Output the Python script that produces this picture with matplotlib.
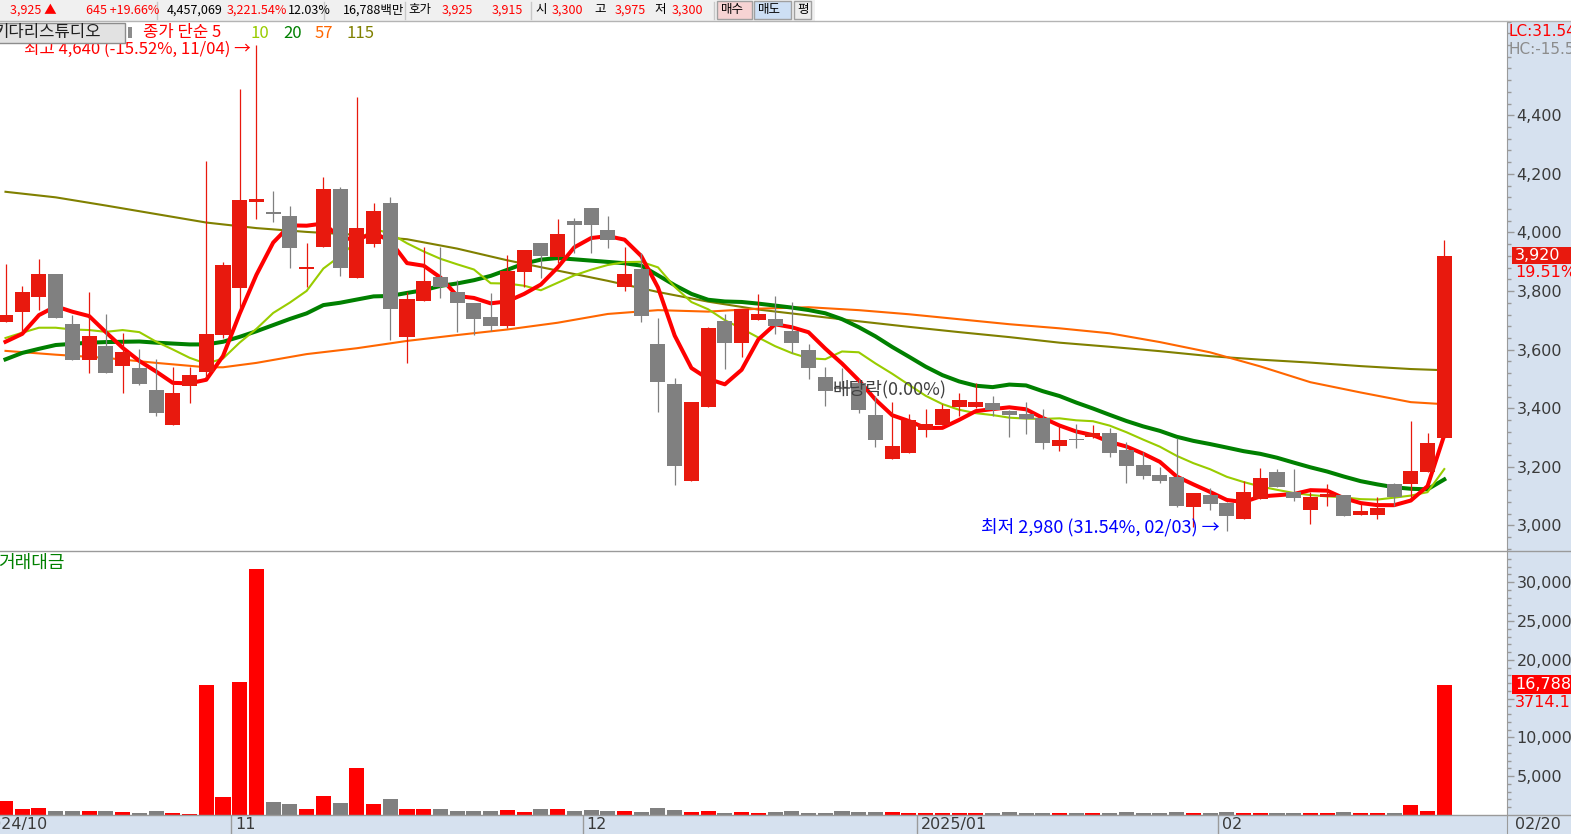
import numpy as np
import pandas as pd
import matplotlib
matplotlib.use('Agg')
import matplotlib.pyplot as plt
import matplotlib.transforms as mtrans
from matplotlib.patches import Rectangle
from matplotlib.lines import Line2D

plt.rcParams['font.family'] = ['Noto Sans CJK KR', 'DejaVu Sans']

# ---------------- data ----------------
holidays = ['2024-12-25', '2024-12-31', '2025-01-01', '2025-01-27',
            '2025-01-28', '2025-01-29', '2025-01-30']
dates = pd.bdate_range('2024-10-14', '2025-02-20').drop(pd.to_datetime(holidays))

opens = [3695, 3729, 3780, 3858, 3687, 3565, 3612, 3545, 3537, 3462,
         3344, 3477, 3525, 3651, 3811, 4105, 4070, 4056, 3875, 3951,
         4148, 3845, 3961, 4100, 3644, 3766, 3848, 3796, 3759, 3711,
         3680, 3865, 3963, 3916, 4038, 4083, 4008, 3813, 3875, 3619,
         3483, 3153, 3405, 3697, 3622, 3701, 3704, 3663, 3599, 3506,
         3471, 3486, 3377, 3228, 3248, 3326, 3343, 3404, 3404, 3418,
         3391, 3380, 3367, 3271, 3295, 3303, 3316, 3257, 3206, 3172,
         3165, 3064, 3104, 3078, 3023, 3091, 3183, 3114, 3054, 3097,
         3104, 3037, 3037, 3143, 3143, 3184, 3300]
highs = [3893, 3817, 3910, 3860, 3718, 3796, 3721, 3657, 3602, 3568,
         3541, 3541, 4243, 3899, 4489, 4640, 4141, 4090, 3963, 4189,
         4155, 4461, 4100, 4120, 3796, 3950, 3950, 3837, 3760, 3793,
         3923, 3940, 3965, 4045, 4049, 4085, 4056, 3950, 3930, 3708,
         3503, 3421, 3678, 3721, 3740, 3790, 3783, 3762, 3619, 3541,
         3538, 3500, 3441, 3421, 3380, 3397, 3414, 3452, 3486, 3441,
         3395, 3421, 3397, 3339, 3346, 3343, 3334, 3285, 3251, 3200,
         3298, 3112, 3129, 3080, 3152, 3197, 3193, 3193, 3115, 3140,
         3105, 3072, 3097, 3145, 3356, 3315, 3975]
lows = [3695, 3663, 3737, 3709, 3565, 3521, 3521, 3453, 3480, 3373,
        3344, 3419, 3504, 3640, 3743, 4046, 4036, 3879, 3813, 3951,
        3851, 3845, 3951, 3633, 3555, 3766, 3777, 3660, 3650, 3663,
        3675, 3813, 3845, 3895, 3929, 3929, 3946, 3800, 3695, 3388,
        3139, 3153, 3405, 3533, 3575, 3700, 3653, 3588, 3500, 3408,
        3465, 3385, 3269, 3228, 3248, 3303, 3343, 3373, 3400, 3373,
        3303, 3312, 3261, 3254, 3264, 3300, 3234, 3145, 3159, 3145,
        3064, 2995, 3054, 2980, 3023, 3091, 3130, 3084, 3004, 3065,
        3034, 3037, 3023, 3067, 3095, 3184, 3300]
closes = [3720, 3796, 3858, 3709, 3565, 3646, 3521, 3592, 3484, 3385,
          3452, 3513, 3653, 3888, 4110, 4115, 4062, 3947, 3882, 4148,
          3879, 4015, 4073, 3739, 3772, 3834, 3813, 3759, 3705, 3680,
          3868, 3940, 3919, 3994, 4026, 4026, 3974, 3858, 3715, 3490,
          3203, 3421, 3673, 3622, 3738, 3721, 3680, 3622, 3537, 3459,
          3466, 3394, 3292, 3271, 3360, 3346, 3397, 3428, 3421, 3394,
          3377, 3363, 3281, 3291, 3292, 3315, 3247, 3203, 3169, 3152,
          3066, 3112, 3074, 3032, 3115, 3163, 3132, 3095, 3098, 3107,
          3034, 3049, 3060, 3097, 3186, 3280, 3920]
# 거래대금 (백만원)
volumes = [1800, 770, 950, 520, 520, 520, 520, 390, 260, 520,
           260, 130, 16750, 2320, 17140, 31700, 1680, 1420, 770, 2450,
           1550, 6060, 1420, 2060, 770, 770, 770, 520, 520, 520,
           640, 390, 770, 770, 520, 640, 520, 520, 390, 900,
           640, 390, 520, 260, 390, 260, 390, 520, 260, 260,
           520, 390, 390, 390, 260, 260, 260, 260, 260, 260,
           390, 260, 260, 260, 260, 260, 260, 390, 260, 260,
           390, 260, 260, 390, 260, 260, 260, 260, 260, 260,
           390, 260, 260, 260, 1300, 550, 16788]

# moving-average values before the window is complete
ma5_head = [3627, 3654, 3718, 3748]
ma10_head = [3640, 3658, 3675, 3675, 3669, 3667, 3661, 3667, 3660]
ma20_head = [3567, 3589, 3603, 3616, 3620, 3624, 3626, 3627, 3628, 3624,
             3621, 3618, 3618, 3627, 3644, 3663, 3684, 3705, 3724]
# long moving averages
ma57_idx = [0, 3, 6, 9, 12, 13, 15, 18, 21, 24, 27, 30, 33, 36, 39, 42,
            45, 48, 51, 54, 57, 60, 63, 66, 69, 72, 75, 78, 81, 84, 86]
ma57_val = [3596, 3583, 3572, 3555, 3540, 3540, 3555, 3585, 3605, 3630,
            3650, 3669, 3692, 3722, 3735, 3730, 3740, 3745, 3735, 3721,
            3704, 3687, 3673, 3656, 3626, 3591, 3543, 3489, 3454, 3421, 3414]
ma115_idx = [0, 3, 6, 9, 12, 15, 18, 21, 24, 27, 30, 33, 36, 39, 42, 45,
             48, 51, 54, 57, 60, 63, 66, 69, 72, 75, 78, 81, 84, 86]
ma115_val = [4139, 4120, 4092, 4063, 4034, 4015, 4002, 3992, 3977, 3945,
             3905, 3870, 3835, 3797, 3764, 3737, 3717, 3697, 3678, 3660,
             3643, 3624, 3610, 3595, 3578, 3566, 3556, 3544, 3534, 3530]
ex_div_idx = 50

n = len(closes)
assert len(opens) == len(highs) == len(lows) == len(volumes) == len(dates) == n

opens, highs, lows, closes, volumes = map(lambda a: np.asarray(a, float),
                                          (opens, highs, lows, closes, volumes))


def sma(vals, win, head):
    out = list(head)
    for i in range(len(head), len(vals)):
        out.append(vals[i - win + 1:i + 1].mean())
    return np.array(out)


ma5 = sma(closes, 5, ma5_head)
ma10 = sma(closes, 10, ma10_head)
ma20 = sma(closes, 20, ma20_head)

# ---------------- layout ----------------
W, H = 1571, 834
BLUE = '#d6e1ef'
fig = plt.figure(figsize=(W / 100, H / 100), dpi=100, facecolor=BLUE)


def fx(px):
    return px / W


def fy(py):
    return 1 - py / H


TOP, SEP, VBOT, RIGHT = 21, 551, 815, 1507
X0, STEP = 5.5, 16.73
PPX = 0.293          # pixels per won
VPX = 0.00776        # pixels per 백만원

ax_p = fig.add_axes([0, fy(SEP), fx(RIGHT), (SEP - TOP) / H])
ax_v = fig.add_axes([0, fy(VBOT), fx(RIGHT), (VBOT - SEP) / H], sharex=ax_p)
ax_d = fig.add_axes([0, 0, fx(RIGHT), (H - VBOT) / H], sharex=ax_p)

ax_p.set_xlim(-X0 / STEP, (RIGHT - X0) / STEP)
ax_p.set_ylim(4000 - (SEP - 232.5) / PPX, 4000 + (232.5 - TOP) / PPX)
ax_v.set_ylim(0, (VBOT - SEP) / VPX)
ax_d.set_ylim(0, 1)

RED_C = '#e8190e'
GRAY_C = '#808080'
SPINE = '#9a9a9a'

for ax in (ax_p, ax_v, ax_d):
    for s in ax.spines.values():
        s.set_visible(False)
    ax.spines['right'].set_visible(True)
    ax.spines['right'].set_color(SPINE)
    ax.tick_params(axis='x', bottom=False, labelbottom=False)
ax_p.set_facecolor('white')
ax_v.set_facecolor('white')
ax_d.set_facecolor(BLUE)
ax_d.set_yticks([])

x = np.arange(n)

# moving averages
ax_p.plot(ma115_idx, ma115_val, color='#808000', lw=1.5, zorder=1)
ax_p.plot(ma57_idx, ma57_val, color='#ff6600', lw=1.5, zorder=1.1)
ax_p.plot(x, ma20, color='#008000', lw=2.9, zorder=1.2)
ax_p.plot(x, ma10, color='#99cc00', lw=1.5, zorder=1.3)
ax_p.plot(x, ma5, color='#ff0000', lw=2.9, zorder=1.4)

# candles
up = closes >= opens
ccol = np.where(up, RED_C, GRAY_C)
body_lo = np.minimum(opens, closes)
body_h = np.maximum(np.abs(closes - opens), 4)
ax_p.vlines(x, lows, highs, colors=ccol, lw=0.9, zorder=3)
ax_p.bar(x, body_h, bottom=body_lo, width=0.9, color=ccol, lw=0, zorder=4)

# volume
vcol = np.where(up, '#ff0000', GRAY_C)
ax_v.bar(x, volumes, width=0.9, color=vcol, lw=0, zorder=3)

# ---------------- right axes ----------------
AXTXT = '#3a3a3a'
ax_p.yaxis.tick_right()
pt = np.arange(3000, 4401, 200)
ax_p.set_yticks(pt)
ax_p.set_yticklabels([f'{v:,}' for v in pt])
ax_p.set_yticks(np.arange(2920, 4721, 40), minor=True)
ax_v.yaxis.tick_right()
vt = np.arange(5000, 30001, 5000)
ax_v.set_yticks(vt)
ax_v.set_yticklabels(['' if v == 15000 else f'{v:,}' for v in vt])
ax_v.set_yticks(np.arange(1000, 34000, 1000), minor=True)
for ax in (ax_p, ax_v):
    ax.tick_params(axis='y', which='major', length=5, width=1, color=SPINE,
                   labelsize=11.5, labelcolor=AXTXT, pad=2,
                   labelfontfamily='DejaVu Sans')
    ax.tick_params(axis='y', which='minor', length=3, width=1, color=SPINE)

# panel separator lines across the full width
for yy in (SEP, VBOT):
    fig.add_artist(Line2D([0, 1], [fy(yy), fy(yy)], color=SPINE, lw=1,
                          transform=fig.transFigure, zorder=10))

# current-value boxes
bt_p = mtrans.blended_transform_factory(fig.transFigure, ax_p.transData)
bt_v = mtrans.blended_transform_factory(fig.transFigure, ax_v.transData)
last, prev = closes[-1], closes[-2]
hbox = 17 / PPX
ax_p.add_patch(Rectangle((fx(1512), last - hbox / 2), fx(W - 1512), hbox,
                         transform=bt_p, fc=RED_C, ec='none', clip_on=False, zorder=6))
ax_p.text(fx(1515), last, f'{int(last):,}', transform=bt_p, color='white',
          fontsize=11.5, va='center', ha='left', family='DejaVu Sans', zorder=7)
ax_p.text(fx(1515), last - 17 / PPX, f'{(last - prev) / prev * 100:.2f}%',
          transform=bt_p, color='#ff0000', fontsize=11.5, va='center', ha='left',
          family='DejaVu Sans', zorder=7)
vlast = volumes[-1]
hbv = 19 / VPX
ax_v.add_patch(Rectangle((fx(1512), vlast - hbv / 2), fx(W - 1512), hbv,
                         transform=bt_v, fc='#ff0000', ec='none', clip_on=False, zorder=6))
ax_v.text(fx(1515), vlast, f'{int(vlast):,}', transform=bt_v, color='white',
          fontsize=11.5, va='center', ha='left', family='DejaVu Sans', zorder=7)
ax_v.text(fx(1515), vlast - 18 / VPX, '3714.1', transform=bt_v, color='#ff0000',
          fontsize=11.5, va='center', ha='left', family='DejaVu Sans', zorder=7)

# LC / HC
i_hi = int(np.argmax(highs))
i_lo = int(np.argmin(lows))
hi, lo = highs[i_hi], lows[i_lo]
fig.text(fx(1508), fy(32), f'LC:{(last - lo) / lo * 100:.2f}%', color='#ff0000',
         fontsize=11, va='center', ha='left', family='DejaVu Sans')
fig.text(fx(1508), fy(49), f'HC:{(last - hi) / hi * 100:.2f}%', color='#8c8c8c',
         fontsize=11, va='center', ha='left', family='DejaVu Sans')

# ---------------- annotations ----------------
ax_p.text(i_hi - 0.33, hi - 14,
          f"최고 {int(hi):,} ({(last - hi) / hi * 100:.2f}%, {dates[i_hi]:%m/%d}) →",
          color='#ff0000', fontsize=12, ha='right', va='center', zorder=8)
ax_p.text(i_lo - 0.45, lo + 15,
          f"최저 {int(lo):,} ({(last - lo) / lo * 100:.2f}%, {dates[i_lo]:%m/%d}) →",
          color='#0000ff', fontsize=13, ha='right', va='center', zorder=8)
ax_p.text(ex_div_idx - 0.55, closes[ex_div_idx], '배당락(0.00%)', color='#404040',
          fontsize=13, ha='left', va='center', zorder=8)
ax_v.text(-0.45, 0.955, '거래대금', transform=mtrans.blended_transform_factory(ax_v.transData, ax_v.transAxes),
          color='#008000', fontsize=13, ha='left', va='center', zorder=8)

# legend line
fig.add_artist(Rectangle((fx(-2), fy(43)), fx(127), 20 / H, transform=fig.transFigure,
                         fc='#e2e2e2', ec='#8c8c8c', lw=1, zorder=9))
fig.text(fx(-6), fy(33), '키다리스튜디오', color='#202020', fontsize=12,
         va='center', ha='left', zorder=10)
fig.add_artist(Rectangle((fx(128), fy(38)), fx(4), 11 / H, transform=fig.transFigure,
                         fc='#8c8c8c', ec='none', zorder=9))
legend_items = [('종가 단순 5', '#ff0000', 143), ('10', '#99cc00', 251),
                ('20', '#008000', 283), ('57', '#ff6600', 315), ('115', '#808000', 347)]
for s, c, xp in legend_items:
    fig.text(fx(xp), fy(33), s, color=c, fontsize=12, va='center', ha='left', zorder=10)

# ---------------- date bar ----------------
mstart = [i for i in range(1, n) if dates[i].month != dates[i - 1].month]
bt_d = mtrans.blended_transform_factory(ax_d.transData, ax_d.transAxes)
lab_tr = mtrans.offset_copy(bt_d, fig=fig, x=4, y=0, units='dots')
for i in mstart:
    ax_d.axvline(i - 0.5, color=SPINE, lw=1)
    lab = dates[i].strftime('%Y/%m') if dates[i].month == 1 else dates[i].strftime('%m')
    ax_d.text(i - 0.5, 0.5, lab, transform=lab_tr, color=AXTXT, fontsize=11.5,
              va='center', ha='left', family='DejaVu Sans')
first_tr = mtrans.offset_copy(bt_d, fig=fig, x=-18, y=0, units='dots')
ax_d.text(-X0 / STEP, 0.5, dates[0].strftime('%Y/%m'), transform=first_tr, color=AXTXT,
          fontsize=11.5, va='center', ha='left', family='DejaVu Sans')
fig.text(fx(1515), fy(824), dates[-1].strftime('%m/%d'), color=AXTXT, fontsize=11.5,
         va='center', ha='left', family='DejaVu Sans')

# ---------------- top toolbar ----------------
fig.add_artist(Rectangle((0, fy(TOP)), 1, TOP / H, transform=fig.transFigure,
                         fc='white', ec='none', zorder=0))
fig.add_artist(Rectangle((0, fy(TOP)), fx(815), TOP / H, transform=fig.transFigure,
                         fc='#f0f0f0', ec='none', zorder=1))
fig.add_artist(Line2D([0, 1], [fy(20.5), fy(20.5)], color='#b4b4b4', lw=1,
                      transform=fig.transFigure, zorder=2))
for xp in (157, 324, 405, 531, 714):
    fig.add_artist(Line2D([fx(xp), fx(xp)], [fy(2), fy(19)], color='#c8c8c8', lw=1,
                          transform=fig.transFigure, zorder=2))
for x0b, x1b, c in ((717, 752, '#f6d3d3'), (754, 791, '#cddff4'), (794, 811, '#ececec')):
    fig.add_artist(Rectangle((fx(x0b), fy(19)), fx(x1b - x0b), 18 / H,
                             transform=fig.transFigure, fc=c, ec='#a0a0a0', lw=1, zorder=2))
RED_T = '#ff0000'
toolbar = [(10, '3,925 ▲', RED_T), (86, '645 +19.66%', RED_T), (167, '4,457,069', 'black'),
           (227, '3,221.54%', RED_T), (288, '12.03%', 'black'), (343, '16,788백만', 'black'),
           (408, '호가', 'black'), (442, '3,925', RED_T), (492, '3,915', RED_T),
           (535, '시', 'black'), (552, '3,300', RED_T), (594, '고', 'black'),
           (615, '3,975', RED_T), (654, '저', 'black'), (672, '3,300', RED_T),
           (721, '매수', 'black'), (758, '매도', 'black'), (797, '평', 'black')]
for xp, s, c in toolbar:
    fig.text(fx(xp), fy(10), s, color=c, fontsize=9, va='center', ha='left', zorder=3)

fig.savefig('out.png', dpi=100, facecolor=fig.get_facecolor())
